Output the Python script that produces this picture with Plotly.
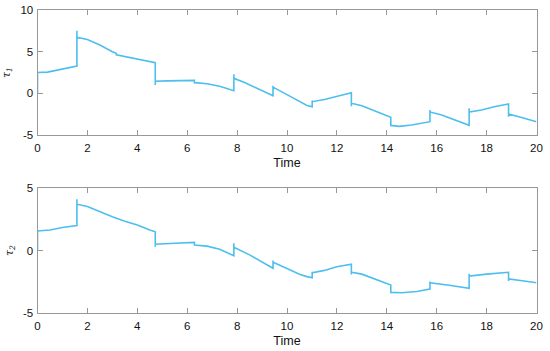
import plotly.graph_objects as go

# tau1 (top) readings: time, value (repeated times mark jumps/spikes)
t1 = [0, 0, 0.4, 0.8, 1.2, 1.58, 1.58, 1.58, 2.0, 2.5, 3.0, 3.16, 3.16, 3.5, 4.0, 4.5, 4.72, 4.72, 4.72,
      5.2, 5.7, 6.1, 6.29, 6.29, 6.8, 7.3, 7.87, 7.87, 7.87, 8.3, 8.8, 9.44, 9.44, 9.44,
      10.0, 10.5, 10.8, 11.01, 11.01, 11.01, 11.5, 12.0, 12.4, 12.58, 12.58, 12.58,
      13.0, 13.5, 14.0, 14.16, 14.16, 14.5, 15.0, 15.5, 15.73, 15.73, 15.73,
      16.2, 16.7, 17.3, 17.3, 17.3, 17.8, 18.3, 18.88, 18.88, 18.88, 19.4, 20.0]
tau1 = [0.0, 2.5, 2.55, 2.8, 3.1, 3.28, 7.5, 6.72, 6.45, 5.8, 5.0, 4.8, 4.62, 4.4, 4.1, 3.8, 3.67, 1.0, 1.45,
        1.5, 1.55, 1.58, 1.56, 1.28, 1.15, 0.85, 0.32, 2.3, 1.8, 1.3, 0.65, -0.28, 0.9, 0.75,
        -0.15, -1.0, -1.45, -1.6, -0.85, -1.0, -0.75, -0.35, -0.05, 0.08, -1.55, -1.2,
        -1.5, -2.1, -2.75, -2.88, -3.85, -3.96, -3.8, -3.5, -3.4, -2.0, -2.24,
        -2.6, -3.2, -3.84, -1.8, -2.24, -2.0, -1.6, -1.28, -2.8, -2.48, -2.9, -3.4]

# tau2 (bottom) readings
t2 = [0, 0, 0.5, 1.0, 1.58, 1.58, 1.58, 2.0, 2.5, 3.0, 3.5, 4.0, 4.5, 4.72, 4.72, 4.72,
      5.5, 6.1, 6.29, 6.29, 6.8, 7.3, 7.87, 7.87, 7.87, 8.5, 9.0, 9.44, 9.44, 9.44,
      10.0, 10.5, 10.8, 11.01, 11.01, 11.01, 11.5, 12.0, 12.58, 12.58, 12.58,
      13.0, 13.5, 14.0, 14.16, 14.16, 14.6, 15.2, 15.73, 15.73, 15.73,
      16.5, 17.3, 17.3, 17.3, 18.0, 18.88, 18.88, 18.88, 19.5, 20.0]
tau2 = [0.0, 1.57, 1.65, 1.85, 2.0, 4.12, 3.72, 3.53, 3.1, 2.72, 2.35, 2.05, 1.65, 1.51, 0.3, 0.5,
        0.58, 0.66, 0.65, 0.44, 0.35, 0.1, -0.42, 0.58, 0.26, -0.35, -0.9, -1.43, -0.8, -0.95,
        -1.45, -1.9, -2.1, -2.19, -1.7, -1.8, -1.6, -1.3, -1.11, -1.92, -1.75,
        -1.9, -2.3, -2.7, -2.78, -3.37, -3.4, -3.3, -3.1, -2.5, -2.6,
        -2.8, -3.04, -1.86, -2.05, -1.9, -1.75, -2.45, -2.29, -2.45, -2.59]

x_ticks = [0, 2, 4, 6, 8, 10, 12, 14, 16, 18, 20]
y1_ticks = [-5, 0, 5, 10]
y2_ticks = [-5, 0, 5]

LINE = "#4DBEEE"
AX = "#999999"
FONT = "Liberation Sans, Arial, sans-serif"
W, H = 550, 351

fig = go.Figure()
fig.add_trace(go.Scatter(x=t1, y=tau1, mode="lines", line=dict(color=LINE, width=1.6),
                         xaxis="x", yaxis="y", hoverinfo="skip"))
fig.add_trace(go.Scatter(x=t2, y=tau2, mode="lines", line=dict(color=LINE, width=1.6),
                         xaxis="x2", yaxis="y2", hoverinfo="skip"))

axcommon = dict(showline=True, linecolor=AX, linewidth=1, mirror="all", ticks="inside", ticklen=5,
                tickcolor=AX, showgrid=False, zeroline=False, automargin=False,
                tickfont=dict(family=FONT, size=11.5, color="#111"))

xdom = [37.5 / W, 536.5 / W]
y1dom = [(H - 135) / H, (H - 10) / H]
y2dom = [(H - 312.7) / H, (H - 188.3) / H]

def xax(anchor):
    return dict(domain=xdom, anchor=anchor, range=[0, 20], tickvals=x_ticks,
                ticktext=[str(v) for v in x_ticks], ticklabelstandoff=2,
                title=dict(text="Time", font=dict(family=FONT, size=12.5, color="#111"), standoff=5),
                **axcommon)

def yax(anchor, dom, rng, ticks, label):
    return dict(domain=dom, anchor=anchor, range=rng, tickvals=ticks,
                ticktext=[str(v) for v in ticks], ticklabelstandoff=1,
                title=dict(text=label, font=dict(family="DejaVu Serif, serif", size=11, color="#111"), standoff=7),
                **axcommon)

fig.update_layout(
    width=W, height=H, margin=dict(l=0, r=0, t=0, b=0),
    paper_bgcolor="white", plot_bgcolor="white", showlegend=False,
    xaxis=xax("y"), xaxis2=xax("y2"),
    yaxis=yax("x", y1dom, [-5, 10], y1_ticks, "<i>τ<sub>1</sub></i>"),
    yaxis2=yax("x2", y2dom, [-5, 5], y2_ticks, "<i>τ<sub>2</sub></i>"),
)

fig.write_html("out.html", config={"displayModeBar": False},
               post_script="document.body.style.margin='0';document.body.style.overflow='hidden';")
